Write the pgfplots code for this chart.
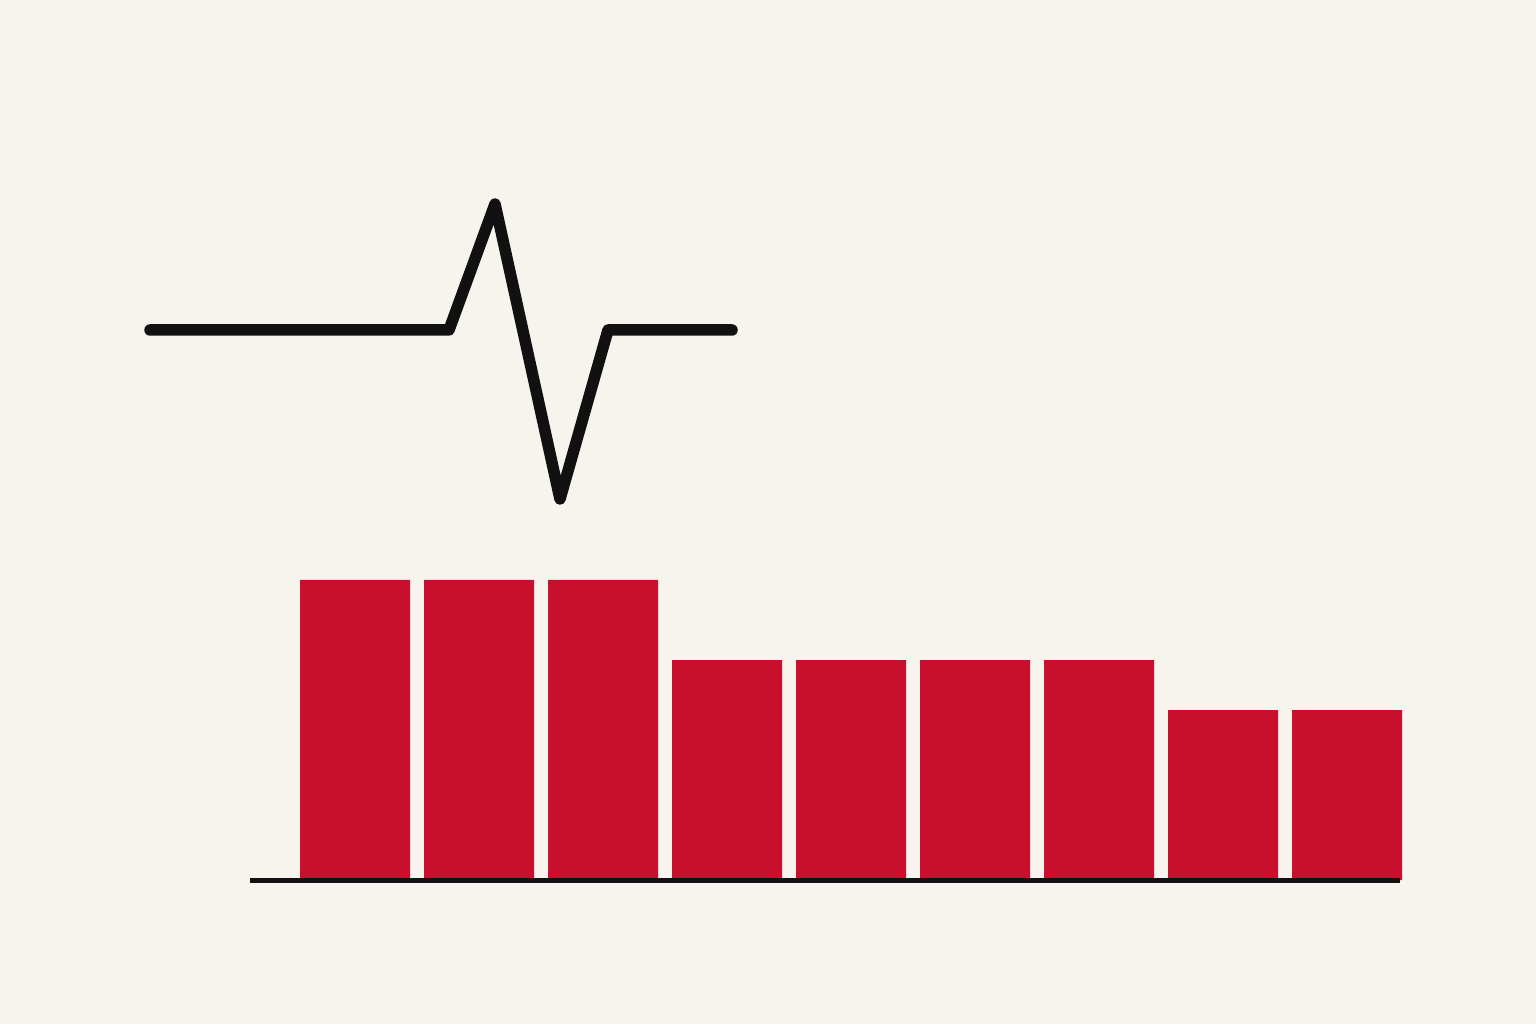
\documentclass[border=0pt]{standalone}
\usepackage{pgfplots}
\pgfplotsset{compat=1.18}
\definecolor{bgc}{HTML}{F7F4ED}
\definecolor{barred}{HTML}{C8102E}
\definecolor{ink}{HTML}{111111}
\begin{document}
\begin{tikzpicture}
\begin{axis}[
  scale only axis,
  width=15.36cm, height=10.24cm,
  xmin=0, xmax=1536, ymin=-144, ymax=880,
  axis line style={draw=none},
  ticks=none,
  axis background/.style={fill=bgc},
  clip=false,
]
\addplot[ybar, bar width=110, bar shift=0pt, fill=barred, draw=none]
  coordinates {(355,300) (479,300) (603,300) (727,220) (851,220) (975,220) (1099,220) (1223,170) (1347,170)};
\addplot[ink, line width=0.5mm, line cap=butt] coordinates {(250,0) (1400,0)};
\addplot[ink, line width=1.15mm, line cap=round, line join=round]
  coordinates {(150,550) (449,550) (495,676) (560,381) (608,550) (732,550)};
\end{axis}
\end{tikzpicture}
\end{document}
